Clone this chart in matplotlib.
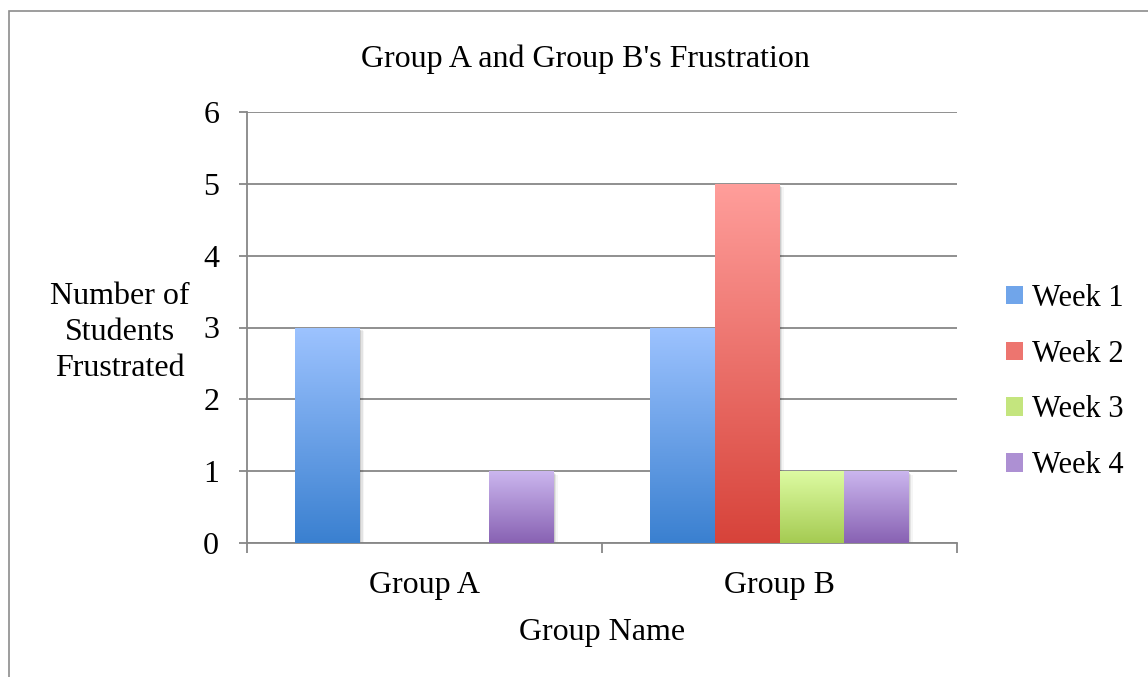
import numpy as np
import matplotlib
matplotlib.use("Agg")
import matplotlib.pyplot as plt
from matplotlib.colors import LinearSegmentedColormap
from matplotlib.patches import Patch, Rectangle

plt.rcParams['font.family'] = ['Liberation Serif', 'DejaVu Serif']

groups = ["Group A", "Group B"]
weeks = ["Week 1", "Week 2", "Week 3", "Week 4"]
week1 = [3, 3]
week2 = [0, 5]
week3 = [0, 1]
week4 = [1, 1]
series = [week1, week2, week3, week4]

# top / bottom colours of each bar's gradient
tops = ["#9dc3ff", "#ff9e9b", "#ddfba2", "#cbb6ee"]
bottoms = ["#3a80d0", "#d7433a", "#a5cb52", "#8862b3"]

grid_col = "#878787"
fs = 23

fig = plt.figure(figsize=(11.48, 6.77), dpi=100)
ax = fig.add_axes([247/1148, 1-543/677, 710/1148, 431/677])

# outer chart border
fig.patches.append(Rectangle((9/1148, -0.1), 1.2, 1-11/677+0.1, transform=fig.transFigure,
                             fill=False, edgecolor="#8c8c8c", lw=1.2, zorder=0))

x = np.arange(len(groups))
w = 1 / 5.5
for i, vals in enumerate(series):
    bars = ax.bar(x + (i - 1.5) * w, vals, w, color="none", lw=0, zorder=3)
    cmap = LinearSegmentedColormap.from_list("g%d" % i, [bottoms[i], tops[i]])
    grad = np.linspace(1, 0, 256).reshape(-1, 1)
    for b in bars:
        h = b.get_height()
        if h <= 0:
            continue
        x0 = b.get_x()
        # soft shadow
        for k, a in enumerate([0.10, 0.07, 0.04]):
            off = 0.004 + k * 0.004
            ax.add_patch(Rectangle((x0 + off, -0.03 - k * 0.01), b.get_width(), h,
                                   color="black", alpha=a, lw=0, zorder=2))
        im = ax.imshow(grad, cmap=cmap, vmin=0, vmax=1, aspect="auto",
                       extent=(x0, x0 + b.get_width(), 0, h), zorder=3)
        im.set_clip_path(b)

ax.set_xlim(-0.5, 1.5)
ax.set_ylim(0, 6)
ax.set_yticks(range(0, 7))
ax.yaxis.grid(True, color=grid_col, lw=1.3, zorder=1)
ax.set_axisbelow(True)

ax.set_xticks([-0.5, 0.5, 1.5])
ax.set_xticklabels([])
ax.set_xticks(x, minor=True)
ax.set_xticklabels(groups, minor=True)
ax.tick_params(axis="x", which="minor", length=0, pad=20, labelsize=fs)
ax.tick_params(axis="x", which="major", length=7, width=1.3, color=grid_col)
ax.tick_params(axis="y", length=6, width=1.3, color=grid_col, labelsize=fs, pad=14)

for s in ["top", "right"]:
    ax.spines[s].set_visible(False)
for s in ["left", "bottom"]:
    ax.spines[s].set_color(grid_col)
    ax.spines[s].set_linewidth(1.3)

ax.set_xlabel("Group Name", fontsize=fs)
ax.xaxis.set_label_coords(0.5, -0.174)
ax.set_ylabel("Number of\nStudents\nFrustrated", fontsize=fs, rotation=0,
              ha="center", va="center", linespacing=1.32)
ax.yaxis.set_label_coords(-0.179, 0.489)

fig.text(585/1148, 1-59/677, "Group A and Group B's Frustration", fontsize=fs,
         ha="center", va="center")

handles = [Patch(facecolor=LinearSegmentedColormap.from_list("m", [bottoms[i], tops[i]])(0.55),
                 edgecolor="none") for i in range(4)]
ax.legend(handles, weeks, loc="center left", bbox_to_anchor=(1006/1148, 1-382/677),
          bbox_transform=fig.transFigure, frameon=False, fontsize=22,
          handlelength=0.55, handleheight=0.55, handletextpad=0.3, labelspacing=0.88,
          borderpad=0, borderaxespad=0)

fig.savefig("out.png", dpi=100)
